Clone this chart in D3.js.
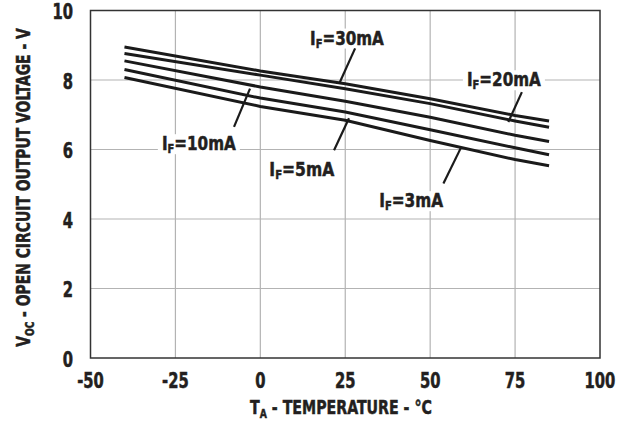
<!DOCTYPE html>
<html><head><meta charset="utf-8">
<script src="https://cdn.jsdelivr.net/npm/d3@7"></script>
<style>
html,body{margin:0;padding:0;background:#fff;}
svg text{font-family:'DejaVu Sans',sans-serif;font-stretch:condensed;font-weight:bold;fill:#231f20;stroke:#231f20;stroke-width:0.5px;}
</style>
</head><body>
<svg id="chart" width="624" height="421"></svg>
<script>
// ---- data ----
const temperatures = [-40, 0, 25, 50, 75, 85];
const seriesNames = ["30mA", "20mA", "10mA", "5mA", "3mA"];
const vIF30 = [8.95, 8.26, 7.89, 7.46, 6.98, 6.82];
const vIF20 = [8.76, 8.14, 7.75, 7.32, 6.82, 6.64];
const vIF10 = [8.55, 7.80, 7.39, 6.93, 6.41, 6.23];
const vIF5  = [8.30, 7.48, 7.08, 6.57, 6.05, 5.85];
const vIF3  = [8.07, 7.24, 6.84, 6.26, 5.71, 5.53];
const xTicks = [-50, -25, 0, 25, 50, 75, 100];
const yTicks = [0, 2, 4, 6, 8, 10];
// label anchors (data units): text centre/baseline, leader from -> to
const labelT  = [25.5, 71.7, -18.1, 12.2, 44.4];
const labelV  = [9.02, 7.82, 5.98, 5.23, 4.34];
const leadT1  = [27.9, 77.0, -7.75, 21.7, 53.9];
const leadV1  = [8.91, 7.65, 6.65, 5.98, 5.02];
const leadT2  = [23.2, 73.0, -3.04, 26.1, 59.0];
const leadV2  = [7.89, 6.79, 7.75, 6.90, 6.04];

const seriesValues = [vIF30, vIF20, vIF10, vIF5, vIF3];

const svg = d3.select("#chart");
const L = 90.5, R = 600, T = 10.5, B = 358;
const x = d3.scaleLinear().domain([-50, 100]).range([L, R]);
const y = d3.scaleLinear().domain([0, 10]).range([B, T]);

// horizontal condensing helper: place text at (cx, cy) scaled to width w
function fit(textSel, cx, cy, w, rot) {
  const bw = textSel.node().getBBox().width;
  const k = w / bw;
  textSel.attr("transform", `translate(${cx},${cy})` + (rot ? ` rotate(${rot})` : "") + ` scale(${k},1)`);
  return k;
}

// grid
const g = svg.append("g");
g.selectAll(".vg").data(xTicks.slice(1, -1)).join("line")
  .attr("x1", d => x(d)).attr("x2", d => x(d)).attr("y1", T).attr("y2", B)
  .attr("stroke", "#b3b3b3").attr("stroke-width", 1.2);
g.selectAll(".hg").data(yTicks.slice(1, -1)).join("line")
  .attr("y1", d => y(d)).attr("y2", d => y(d)).attr("x1", L).attr("x2", R)
  .attr("stroke", "#b3b3b3").attr("stroke-width", 1.2);

// frame
svg.append("rect").attr("x", L).attr("y", T).attr("width", R - L).attr("height", B - T)
  .attr("fill", "none").attr("stroke", "#333").attr("stroke-width", 1.5);

// series lines
const line = d3.line().x((d, i) => x(temperatures[i])).y(d => y(d));
svg.append("g").selectAll("path").data(seriesValues).join("path")
  .attr("d", d => line(d)).attr("fill", "none").attr("stroke", "#1a1a1a")
  .attr("stroke-width", 3);

// labels
const labelW = [74, 74, 74, 65, 64];
seriesNames.forEach((name, i) => {
  const gg = svg.append("g");
  const bg = gg.append("rect").attr("fill", "#fff");
  const t = gg.append("text").attr("x", 0).attr("y", 0)
    .attr("text-anchor", "middle").attr("font-size", 20);
  t.append("tspan").text("I");
  t.append("tspan").attr("font-size", 13).attr("dy", 3).text("F");
  t.append("tspan").attr("dy", -3).text("=" + name);
  const cx = x(labelT[i]), cy = y(labelV[i]);
  fit(t, cx, cy, labelW[i]);
  bg.attr("x", cx - labelW[i] / 2 - 4).attr("y", cy - 16)
    .attr("width", labelW[i] + 8).attr("height", 20);
  svg.append("line").attr("x1", x(leadT1[i])).attr("y1", y(leadV1[i]))
    .attr("x2", x(leadT2[i])).attr("y2", y(leadV2[i]))
    .attr("stroke", "#1a1a1a").attr("stroke-width", 2.2);
});

// axis tick labels
svg.append("g").selectAll("text").data(xTicks).join("text")
  .attr("text-anchor", "middle").attr("font-size", 20.5).text(d => d)
  .each(function (d) {
    d3.select(this).attr("transform", `translate(${x(d)},387.5) scale(0.8,1)`);
  });
svg.append("g").selectAll("text").data(yTicks).join("text")
  .attr("text-anchor", "end").attr("font-size", 20.5).text(d => d)
  .each(function (d) {
    d3.select(this).attr("transform", `translate(73,${y(d) + 8.5}) scale(0.8,1)`);
  });

// axis titles
const xt = svg.append("text").attr("text-anchor", "middle").attr("font-size", 20);
xt.append("tspan").text("T");
xt.append("tspan").attr("font-size", 13).attr("dy", 4).text("A");
xt.append("tspan").attr("dy", -4).text(" - TEMPERATURE - °C");
fit(xt, 341, 414, 182);

const yt = svg.append("text").attr("text-anchor", "middle").attr("font-size", 20);
yt.append("tspan").text("V");
yt.append("tspan").attr("font-size", 13).attr("dy", 4).text("OC");
yt.append("tspan").attr("dy", -4).text(" - OPEN CIRCUIT OUTPUT VOLTAGE - V");
fit(yt, 30, 187.5, 319, -90);
</script>
</body></html>
